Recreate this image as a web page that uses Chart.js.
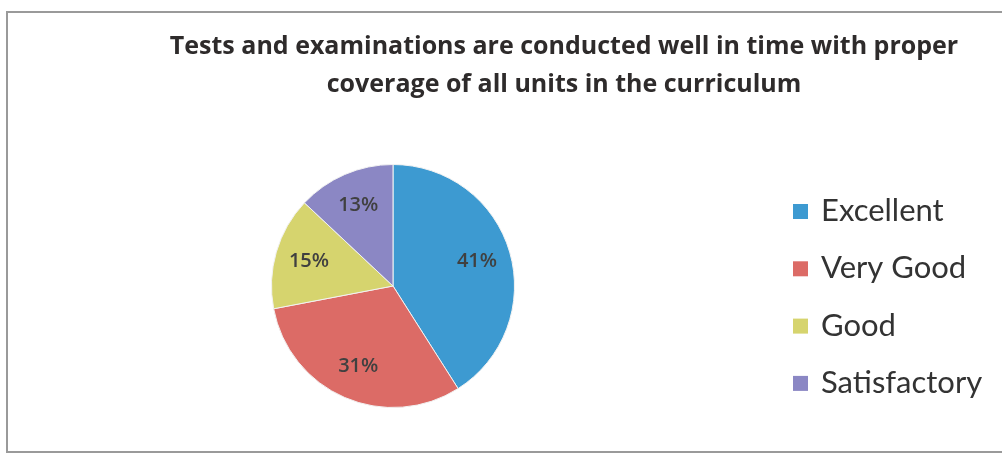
<!DOCTYPE html>
<html>
<head>
<meta charset="utf-8">
<script src="https://cdn.jsdelivr.net/npm/chart.js@4"></script>
<style>
  html, body { margin: 0; padding: 0; background: #fff; }
  #wrap { width: 1002px; height: 466px; position: relative; }
</style>
</head>
<body>
<div id="wrap"><canvas id="pieChart" width="1002" height="466"></canvas></div>
<script>
  const categories = ['Excellent', 'Very Good', 'Good', 'Satisfactory'];
  const percentages = [41, 31, 15, 13];
  const sliceColors = ['#3d9ad1', '#dc6b66', '#d6d46e', '#8b87c4'];
  const titleLines = [
    'Tests and examinations are conducted well in time with proper',
    'coverage of all units in the curriculum'
  ];

  /* ================= FRAME + TITLE ================= */

  const frameAndTitle = {
    id: 'frameAndTitle',
    beforeDraw(chart) {
      const ctx = chart.ctx;
      ctx.save();
      ctx.fillStyle = '#fff';
      ctx.fillRect(0, 0, chart.width, chart.height);
      ctx.strokeStyle = '#9a9a9a';
      ctx.lineWidth = 2;
      ctx.strokeRect(7, 12, 1010, 440);
      ctx.restore();
    },
    afterDraw(chart) {
      const ctx = chart.ctx;
      ctx.save();
      ctx.fillStyle = '#2e2b2b';
      ctx.font = 'bold 25px "Open Sans", sans-serif';
      ctx.textAlign = 'center';
      ctx.textBaseline = 'middle';
      ctx.fillText(titleLines[0], 564, 47);
      ctx.fillText(titleLines[1], 564, 85);
      ctx.restore();
    }
  };

  /* ================= LEGEND ================= */

  const sideLegend = {
    id: 'sideLegend',
    afterDraw(chart) {
      const ctx = chart.ctx;
      ctx.save();
      ctx.font = '31px Lato, sans-serif';
      ctx.textBaseline = 'middle';
      chart.data.labels.forEach((label, i) => {
        const y = 211 + i * 57.3;
        ctx.fillStyle = sliceColors[i];
        ctx.fillRect(793, y - 7, 15, 15);
        ctx.fillStyle = '#333';
        ctx.fillText(label, 821, y);
      });
      ctx.restore();
    }
  };

  /* ================= PERCENT LABELS ================= */

  const percentLabels = {
    id: 'percentLabels',
    afterDatasetsDraw(chart) {
      const ctx = chart.ctx;
      const meta = chart.getDatasetMeta(0);
      ctx.save();
      ctx.font = '600 20px "Open Sans", sans-serif';
      ctx.fillStyle = '#404040';
      ctx.textAlign = 'center';
      ctx.textBaseline = 'middle';
      meta.data.forEach((arc, i) => {
        const p = arc.getProps(['x', 'y', 'startAngle', 'endAngle', 'outerRadius']);
        const mid = (p.startAngle + p.endAngle) / 2;
        const r = p.outerRadius * 0.72;
        ctx.fillText(percentages[i] + '%', p.x + Math.cos(mid) * r, p.y + Math.sin(mid) * r);
      });
      ctx.restore();
    }
  };

  new Chart(document.getElementById('pieChart'), {
    type: 'pie',
    data: {
      labels: categories,
      datasets: [{
        data: percentages,
        backgroundColor: sliceColors,
        borderColor: '#f2f2f2',
        borderWidth: 1
      }]
    },
    options: {
      responsive: false,
      animation: false,
      layout: { padding: { top: 164, bottom: 58, left: 0, right: 216 } },
      plugins: {
        title: { display: false },
        legend: { display: false },
        tooltip: { enabled: false }
      }
    },
    plugins: [frameAndTitle, sideLegend, percentLabels]
  });
</script>
</body>
</html>
